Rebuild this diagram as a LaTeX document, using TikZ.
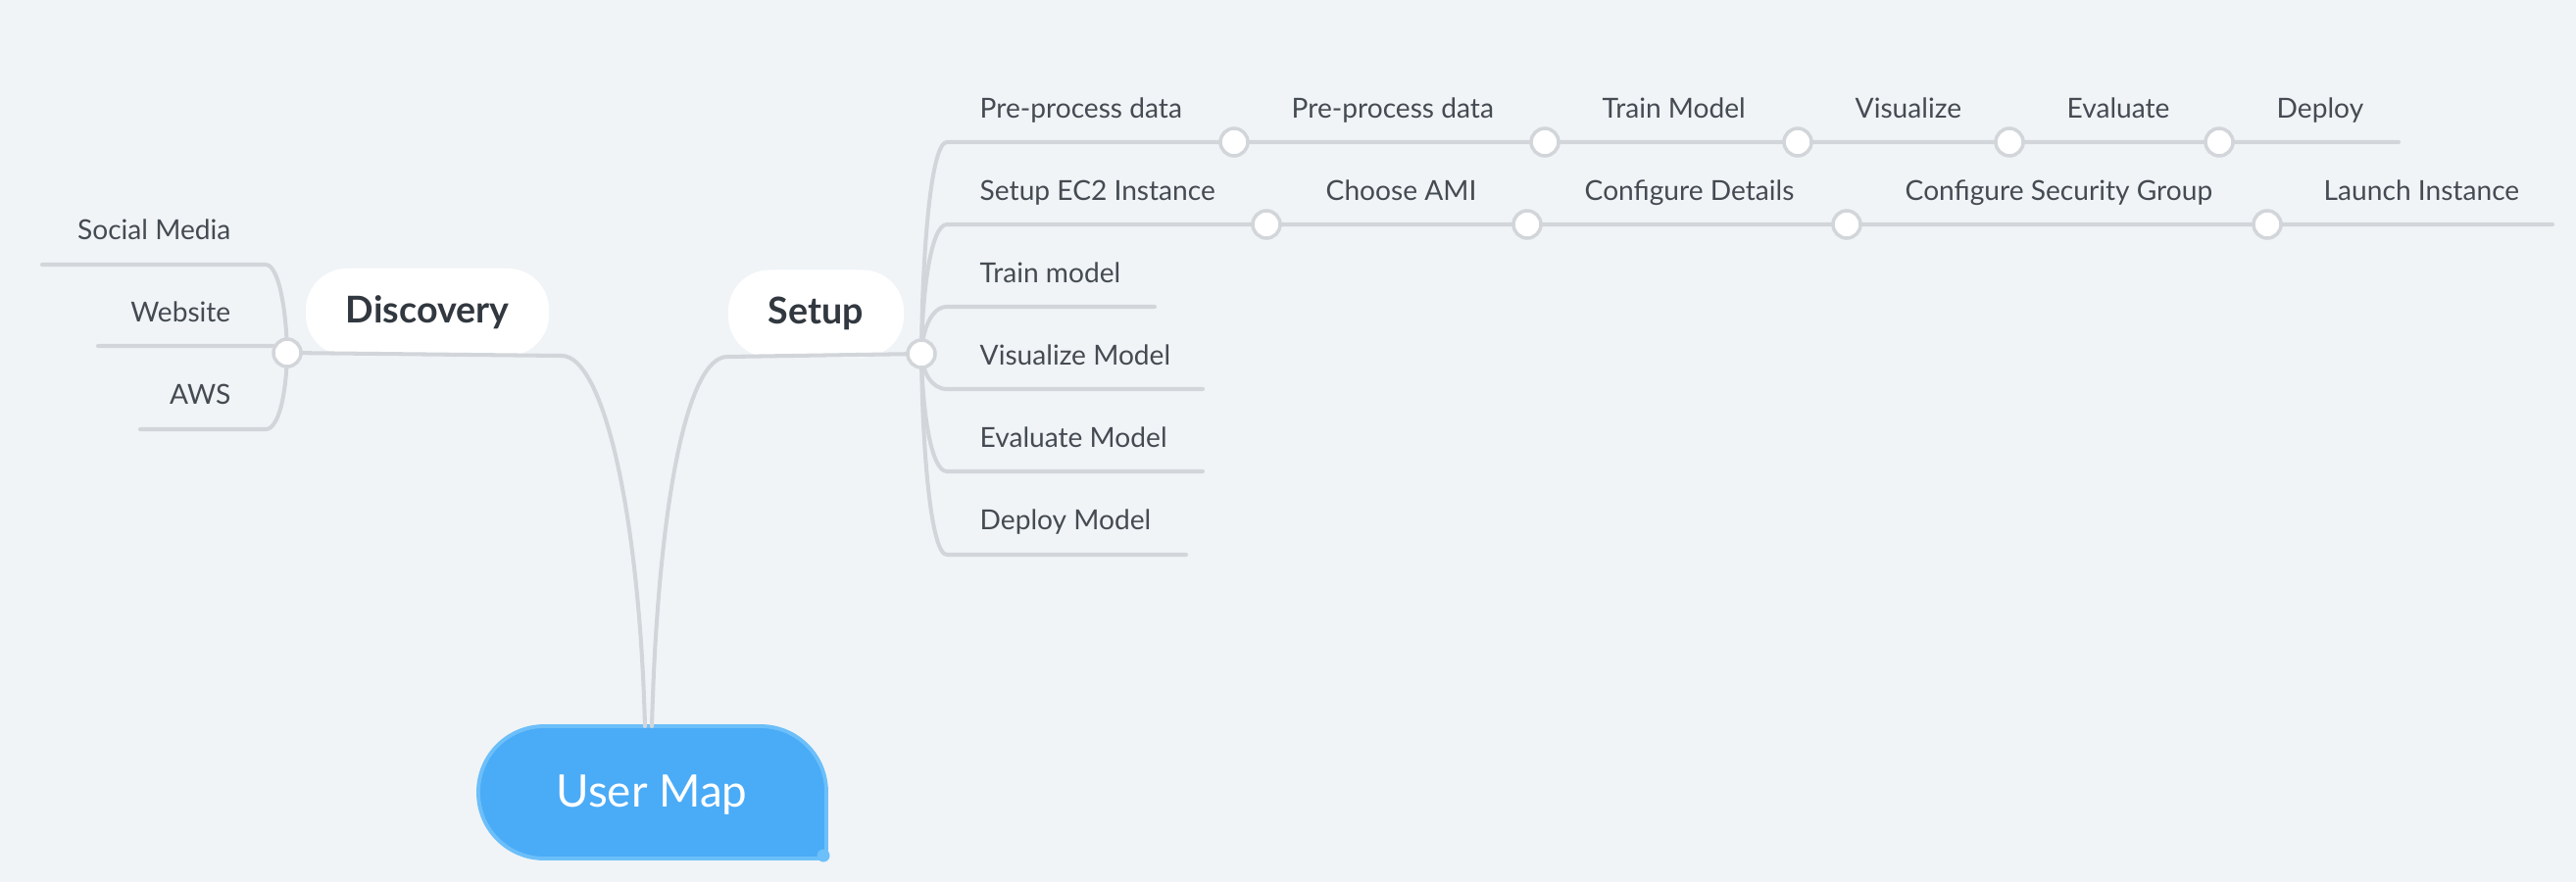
\documentclass[tikz,border=0pt]{standalone}
\usepackage{fontspec}
\setmainfont{Lato}
\usetikzlibrary{positioning}
\definecolor{bg}{HTML}{F0F4F7}
\definecolor{edge}{HTML}{D2D6DA}
\definecolor{ink}{HTML}{454B52}
\definecolor{topic}{HTML}{32383F}
\definecolor{mapfill}{HTML}{4AABF7}
\definecolor{mapline}{HTML}{6CBFF9}
\begin{document}
\begin{tikzpicture}[x=0.01cm,y=-0.01cm,line join=round,line cap=round,
	branch/.style={draw=edge,line width=1.15pt},
	knot/.style={circle,draw=edge,fill=white,line width=1pt,inner sep=0pt,minimum size=0.28cm},
	leaf/.style={text=ink,font=\fontsize{8}{10}\selectfont,inner sep=0pt},
	topicbox/.style={fill=white,rounded corners=0.42cm,text=topic,font=\fontsize{10.7}{12}\selectfont\bfseries,minimum height=0.89cm}]
	\fill[bg] (0,0) rectangle (2628,900);
	\useasboundingbox (0,0) rectangle (2628,900);
	\coordinate (kd) at (293,360);
	\coordinate (ks) at (940,361);
	\coordinate (k11) at (1259,145);
	\coordinate (k12) at (1576,145);
	\coordinate (k13) at (1834,145);
	\coordinate (k14) at (2050,145);
	\coordinate (k15) at (2264,145);
	\coordinate (k21) at (1292,229);
	\coordinate (k22) at (1558,229);
	\coordinate (k23) at (1884,229);
	\coordinate (k24) at (2313,229);
	\coordinate (dtip) at (658,741);
	\coordinate (stip) at (665,741);
	% root
	\draw[fill=mapfill,draw=mapline,line width=1.1pt,rounded corners=0.67cm]
	(843,876)--(488,876)--(488,741)--(843,741)--(843,876);
	\fill[mapline] (840,873) circle (0.065cm);
	\node[text=white,font=\fontsize{13}{15}\selectfont,anchor=base,inner sep=0pt] (map) at (665,823) {User Map};
	\node[topicbox,minimum width=2.48cm] (disc) at (436,318.5) {Discovery};
	\node[topicbox,minimum width=1.79cm] (setup) at (832.5,320) {Setup};
	% left branch
	\draw[branch] (kd)--(573,363) .. controls (615,363) and (652,520) .. (dtip);
	\draw[branch] (kd) .. controls (292,314) and (284,270) .. (271,270)--(43,270);
	\draw[branch] (kd)--(281,353)--(100,353);
	\draw[branch] (kd) .. controls (292,404) and (284,438) .. (271,438)--(143,438);
	\node[leaf,anchor=base east] (social) at (236,244) {Social Media};
	\node[leaf,anchor=base east] (website) at (236,328) {Website};
	\node[leaf,anchor=base east] (aws) at (236,412) {AWS};
	% right branch
	\draw[branch] (ks)--(742,364) .. controls (700,364) and (671,520) .. (stip);
	\draw[branch] (ks) .. controls (941,253) and (950,145) .. (966,145)--(k11)--(k12)--(k13)--(k14)--(k15)--(2447,145);
	\draw[branch] (ks) .. controls (941,295) and (950,229) .. (966,229)--(k21)--(k22)--(k23)--(k24)--(2604,229);
	\draw[branch] (ks) .. controls (941,337) and (950,313) .. (966,313)--(1178,313);
	\draw[branch] (ks) .. controls (941,379) and (950,397) .. (966,397)--(1227,397);
	\draw[branch] (ks) .. controls (941,421) and (950,481) .. (966,481)--(1227,481);
	\draw[branch] (ks) .. controls (941,463) and (950,566) .. (966,566)--(1210,566);
	\foreach \k in {kd,ks,k11,k12,k13,k14,k15,k21,k22,k23,k24}
	\node[knot] at (\k) {};
	\node[leaf,anchor=base west] (pre) at (999,120) {Pre-process data};
	\node[leaf,anchor=base west] (ec2) at (999,204) {Setup EC2 Instance};
	\node[leaf,anchor=base west] (train) at (999,288) {Train model};
	\node[leaf,anchor=base west] (vis) at (999,372) {Visualize Model};
	\node[leaf,anchor=base west] (eval) at (999,456) {Evaluate Model};
	\node[leaf,anchor=base west] (deploy) at (999,540) {Deploy Model};
	\node[leaf,anchor=base west] (prep) at (1317,120) {Pre-process data};
	\node[leaf,anchor=base west] (trainm) at (1634,120) {Train Model};
	\node[leaf,anchor=base west] (visz) at (1892,120) {Visualize};
	\node[leaf,anchor=base west] (evalz) at (2108,120) {Evaluate};
	\node[leaf,anchor=base west] (deployz) at (2322,120) {Deploy};
	\node[leaf,anchor=base west] (ami) at (1352,204) {Choose AMI};
	\node[leaf,anchor=base west] (details) at (1616,204) {Configure Details};
	\node[leaf,anchor=base west] (secgroup) at (1943,204) {Configure Security Group};
	\node[leaf,anchor=base west] (launch) at (2370,204) {Launch Instance};
\end{tikzpicture}
\end{document}
